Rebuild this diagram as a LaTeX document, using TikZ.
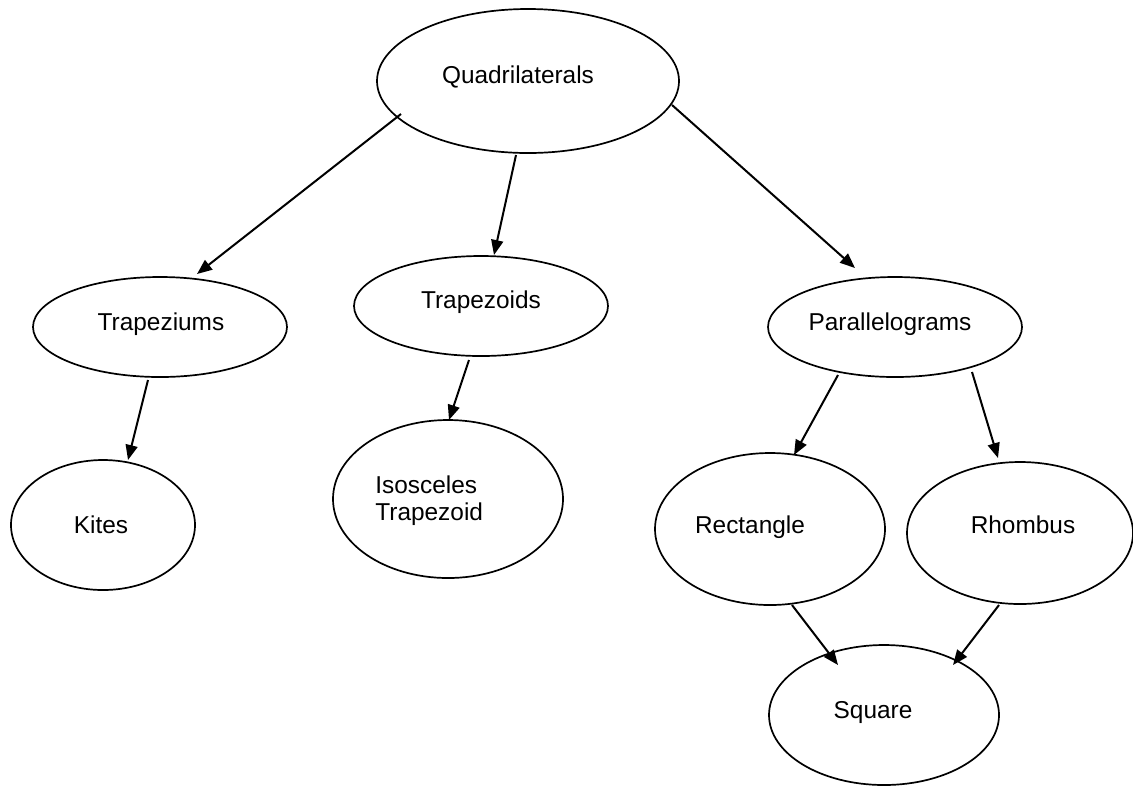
\documentclass[tikz,border=0pt]{standalone}
\usepackage{fontspec}
\setmainfont{Liberation Sans}
\usetikzlibrary{shapes.geometric,arrows.meta}
\tikzset{
  oval/.style={draw, ellipse, line width=0.85pt, inner sep=0pt},
  lbl/.style={anchor=base, inner sep=0pt, font=\fontsize{12.2pt}{14pt}\selectfont},
  arr/.style={line width=1pt, -{Triangle[length=7.5pt,width=6pt]}}
}
\begin{document}
\begin{tikzpicture}[x=0.5pt,y=-0.5pt]
\useasboundingbox (0,0) rectangle (1133,789);
% ellipses (sizes in pt = px/2)
\node[oval, minimum width=151pt, minimum height=72pt] (quad) at (528,81) {};
\node[oval, minimum width=127pt, minimum height=50pt] (trapz) at (160,327) {};
\node[oval, minimum width=127pt, minimum height=50pt] (trapd) at (481,306) {};
\node[oval, minimum width=127pt, minimum height=50pt] (para) at (895,327) {};
\node[oval, minimum width=92pt, minimum height=65pt] (kite) at (103,525) {};
\node[oval, minimum width=115pt, minimum height=79pt] (iso) at (448,499) {};
\node[oval, minimum width=115pt, minimum height=76pt] (rect) at (770,529) {};
\node[oval, minimum width=113pt, minimum height=71pt] (rhom) at (1020,533) {};
\node[oval, minimum width=115pt, minimum height=70pt] (sq) at (884,715) {};
% labels
\node[lbl] (tquad) at (518,83) {Quadrilaterals};
\node[lbl] (ttrapz) at (161,330) {Trapeziums};
\node[lbl] (ttrapd) at (481,308) {Trapezoids};
\node[lbl] (tpara) at (890,330) {Parallelograms};
\node[lbl] (tkite) at (101,533) {Kites};
\node[lbl, anchor=base west] (tiso1) at (375,493) {Isosceles};
\node[lbl, anchor=base west] (tiso2) at (375,520) {Trapezoid};
\node[lbl] (trect) at (750,533) {Rectangle};
\node[lbl] (trhom) at (1023,533) {Rhombus};
\node[lbl] (tsq) at (873,718) {Square};
% connector end points
\coordinate (a1) at (401,114); \coordinate (b1) at (197,274);
\coordinate (a2) at (516,155); \coordinate (b2) at (494,255);
\coordinate (a3) at (672,105); \coordinate (b3) at (855,268);
\coordinate (a4) at (148,380); \coordinate (b4) at (128,460);
\coordinate (a5) at (469,360); \coordinate (b5) at (449,420);
\coordinate (a6) at (838,375); \coordinate (b6) at (794,455);
\coordinate (a7) at (972,372); \coordinate (b7) at (998,458);
\coordinate (a8) at (792,605); \coordinate (b8) at (838,665);
\coordinate (a9) at (999,605); \coordinate (b9) at (953,665);
\draw[arr] (a1) -- (b1);
\draw[arr] (a2) -- (b2);
\draw[arr] (a3) -- (b3);
\draw[arr] (a4) -- (b4);
\draw[arr] (a5) -- (b5);
\draw[arr] (a6) -- (b6);
\draw[arr] (a7) -- (b7);
\draw[arr] (a8) -- (b8);
\draw[arr] (a9) -- (b9);
\end{tikzpicture}
\end{document}
